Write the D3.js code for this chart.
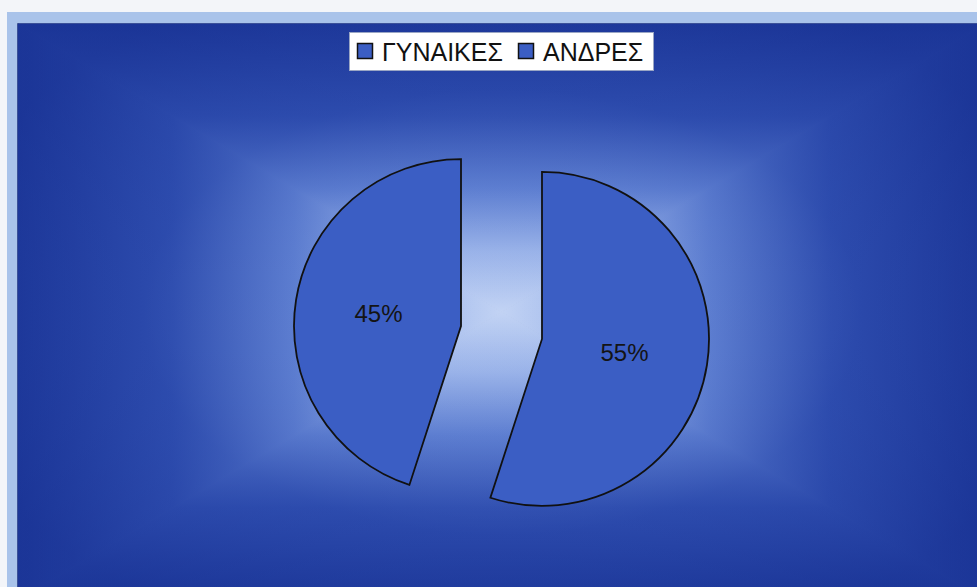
<!DOCTYPE html>
<html><head><meta charset="utf-8">
<script src="https://cdn.jsdelivr.net/npm/d3@7"></script>
<style>html,body{margin:0;padding:0;background:#f3f5f9;overflow:hidden}svg{display:block}</style>
</head><body>
<script>
const categories = ["ΓΥΝΑΙΚΕΣ", "ΑΝΔΡΕΣ"];
const values = [45, 55];
const labels = ["45%", "55%"];

const W = 977, H = 587;
const svg = d3.select("body").append("svg").attr("width", W).attr("height", H);
const defs = svg.append("defs");

// outer frame
svg.append("rect").attr("x", 0).attr("y", 0).attr("width", W).attr("height", H).attr("fill", "#f3f5f9");
svg.append("rect").attr("x", 7).attr("y", 12).attr("width", W + 20).attr("height", H + 20)
  .attr("fill", "#a9c3ea");

// plot area with rectangular "from centre" gradient
const px0 = 18, py0 = 24, px1 = 985, py1 = 600;
const cx = (px0 + px1) / 2, cy = (py0 + py1) / 2;
svg.append("rect").attr("x", px0 - 1).attr("y", py0 - 1).attr("width", px1 - px0 + 2).attr("height", py1 - py0 + 2)
  .attr("fill", "#5a6c9a");
const stops = [[0, "#c2d3f4"], [0.21, "#9ab3e9"], [0.43, "#5a7bcf"], [0.68, "#2e4daf"], [1, "#1b3597"]];
const tris = [
  {id: "gl", x2: px0, y2: cy, pts: [[cx, cy], [px0, py0], [px0, py1]]},
  {id: "gr", x2: px1, y2: cy, pts: [[cx, cy], [px1, py0], [px1, py1]]},
  {id: "gt", x2: cx, y2: py0, pts: [[cx, cy], [px0, py0], [px1, py0]]},
  {id: "gb", x2: cx, y2: py1, pts: [[cx, cy], [px0, py1], [px1, py1]]}
];
tris.forEach(t => {
  const g = defs.append("linearGradient").attr("id", t.id).attr("gradientUnits", "userSpaceOnUse")
    .attr("x1", cx).attr("y1", cy).attr("x2", t.x2).attr("y2", t.y2);
  stops.forEach(s => g.append("stop").attr("offset", s[0]).attr("stop-color", s[1]));
  svg.append("polygon").attr("points", t.pts.map(p => p.join(",")).join(" "))
    .attr("fill", `url(#${t.id})`).attr("stroke", `url(#${t.id})`).attr("stroke-width", 1);
});
// soften the diagonal seams
const rg = defs.append("radialGradient").attr("id", "soft").attr("gradientUnits", "userSpaceOnUse")
  .attr("cx", cx).attr("cy", cy).attr("r", 580).attr("gradientTransform", `translate(${cx},${cy}) scale(1,0.62) translate(${-cx},${-cy})`);
[[0, "#b8cbf2", 0.0], [0.32, "#7393dd", 0.14], [0.62, "#2a48aa", 0.3], [1, "#1b3597", 0.45]]
  .forEach(s => rg.append("stop").attr("offset", s[0]).attr("stop-color", s[1]).attr("stop-opacity", s[2]));
svg.append("rect").attr("x", px0).attr("y", py0).attr("width", px1 - px0).attr("height", py1 - py0)
  .attr("fill", "url(#soft)");

// pie
const R = 167, explode = 41;
const center = [501.5, 332.5];
const a0 = 198 * Math.PI / 180;
const pie = d3.pie().sort(null).value(d => d).startAngle(a0).endAngle(a0 + 2 * Math.PI);
const arc = d3.arc().innerRadius(0).outerRadius(R);
const arcs = pie(values);
const fill = "#3b5ec4";
const g = svg.append("g").attr("transform", `translate(${center[0]},${center[1]})`);
arcs.forEach((d, i) => {
  const mid = (d.startAngle + d.endAngle) / 2;
  const ox = Math.sin(mid) * explode, oy = -Math.cos(mid) * explode;
  const sg = g.append("g").attr("transform", `translate(${ox},${oy})`);
  sg.append("path").attr("d", arc(d)).attr("fill", fill).attr("stroke", "#111").attr("stroke-width", 1.8)
    .attr("stroke-linejoin", "miter");
  const c = arc.centroid(d);
  sg.append("text").attr("x", c[0]).attr("y", c[1]).attr("text-anchor", "middle").attr("dy", "0.36em")
    .attr("font-family", "Liberation Sans, Arial, sans-serif").attr("font-size", 24).attr("fill", "#141414")
    .text(labels[i]);
});

// legend
const lg = svg.append("g");
lg.append("rect").attr("x", 349.5).attr("y", 32.5).attr("width", 304).attr("height", 38)
  .attr("fill", "#ffffff").attr("stroke", "#9aa6c4").attr("stroke-width", 1);
const legX = [357, 518];
categories.forEach((c, i) => {
  lg.append("rect").attr("x", legX[i] + 0.5).attr("y", 43.5).attr("width", 15).attr("height", 15)
    .attr("fill", fill).attr("stroke", "#111").attr("stroke-width", 1.5);
  lg.append("text").attr("x", legX[i] + 25).attr("y", 61)
    .attr("font-family", "Liberation Sans, Arial, sans-serif").attr("font-size", 25).attr("fill", "#111")
    .text(c);
});
</script>
</body></html>
